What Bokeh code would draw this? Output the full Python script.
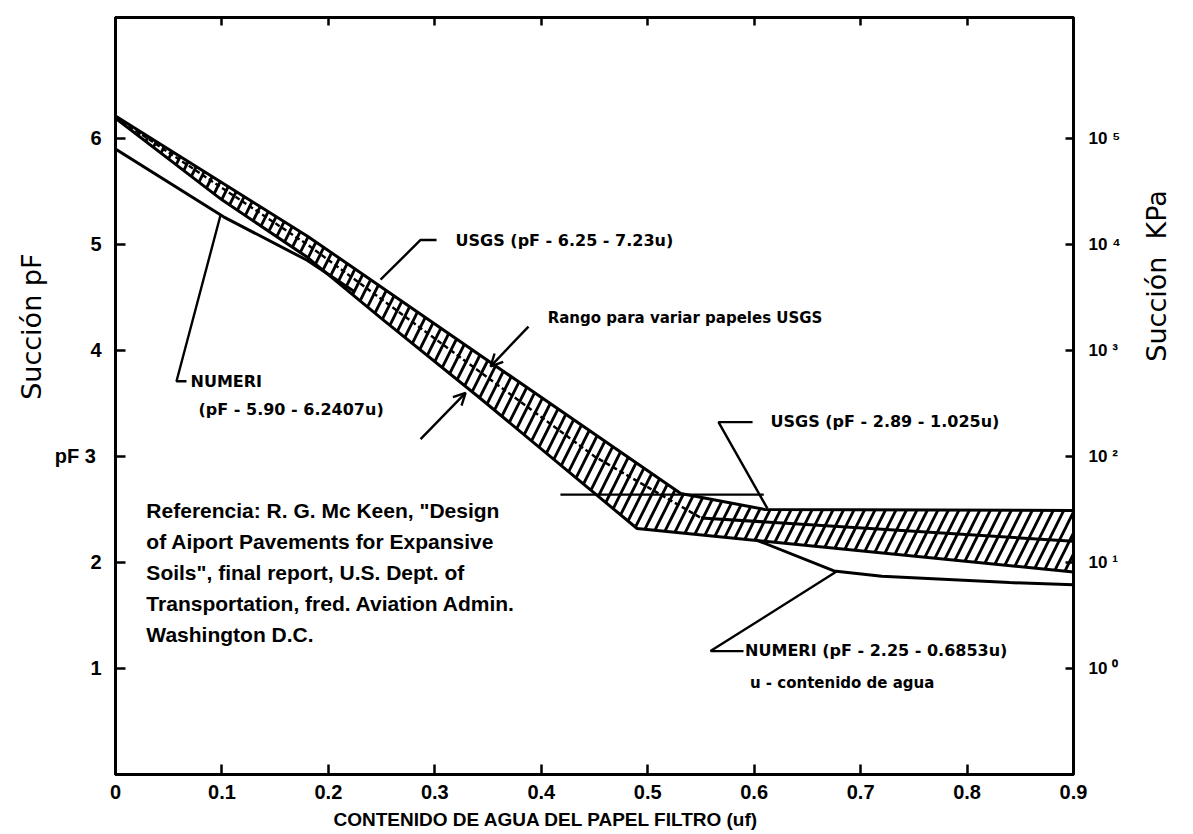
import math
from bokeh.plotting import figure
from bokeh.models import Range1d, LinearAxis, FixedTicker, Title, Arrow, OpenHead, ColumnDataSource
from bokeh.core.properties import value
from bokeh.embed import file_html
from bokeh.resources import INLINE

# ---------------- data ----------------
x_ticks = [0, 0.1, 0.2, 0.3, 0.4, 0.5, 0.6, 0.7, 0.8, 0.9]
x_tick_labels = ["0", "0.1", "0.2", "0.3", "0.4", "0.5", "0.6", "0.7", "0.8", "0.9"]
pf_ticks = [1, 2, 3, 4, 5, 6]
pf_labels = ["1", "2", "pF  3", "4", "5", "6"]
kpa_labels = ["10 \u2070", "10 \u00b9", "10 \u00b2", "10 \u00b3", "10 \u2074", "10 \u2075"]

# USGS range band (upper and lower edges)
band_top_u = [0, 0.18, 0.531, 0.61, 0.9]
band_top_pf = [6.21, 5.08, 2.65, 2.50, 2.49]
band_low_u = [0, 0.10, 0.18, 0.25, 0.34, 0.49, 0.9]
band_low_pf = [6.19, 5.42, 4.88, 4.30, 3.57, 2.32, 1.91]

# USGS inner (dashed) line and flat central line
usgs_inner_u = [0, 0.18, 0.45, 0.55]
usgs_inner_pf = [6.20, 5.00, 3.00, 2.42]
usgs_mid_u = [0.55, 0.9]
usgs_mid_pf = [2.42, 2.20]

# horizontal line near pF 2.64
horiz_u = [0.418, 0.609]
horiz_pf = [2.64, 2.64]

# NUMERI curves
numeri_hi_u = [0, 0.1015, 0.18, 0.225]
numeri_hi_pf = [5.90, 5.26, 4.85, 4.55]
numeri_lo_u = [0.60, 0.675, 0.72, 0.84, 0.9]
numeri_lo_pf = [2.22, 1.92, 1.87, 1.81, 1.79]

# leader lines (annotation pointers)
leader_numeri1_u = [0.0987, 0.0573, 0.0667]
leader_numeri1_pf = [5.277, 3.709, 3.709]
leader_usgs1_u = [0.249, 0.2866, 0.3016]
leader_usgs1_pf = [4.667, 5.042, 5.042]
leader_usgs2_u = [0.6125, 0.5665, 0.5985]
leader_usgs2_pf = [2.507, 3.324, 3.324]
leader_numeri2_u = [0.6774, 0.559, 0.59]
leader_numeri2_pf = [1.915, 1.164, 1.164]

# arrows for "Rango" note
arrow_u0 = [0.388, 0.2866]
arrow_pf0 = [4.225, 3.164]
arrow_u1 = [0.3524, 0.3289]
arrow_pf1 = [3.85, 3.60]

# annotation texts
note_texts = ["USGS (pF - 6.25 - 7.23u)", "NUMERI", "(pF - 5.90 - 6.2407u)",
              "USGS (pF - 2.89 - 1.025u)", "NUMERI (pF - 2.25 - 0.6853u)"]
note_u = [0.3195, 0.0705, 0.078, 0.6154, 0.5915]
note_pf = [5.04, 3.709, 3.446, 3.33, 1.174]

rango_texts = ["Rango para variar papeles USGS"]
rango_u = [0.406]
rango_pf = [4.31]

small_texts = ["u - contenido de agua"]
small_u = [0.596]
small_pf = [0.864]

ref_texts = ["Referencia:  R. G.  Mc Keen, \"Design",
             "of  Aiport  Pavements for Expansive",
             "Soils\",  final  report,  U.S.  Dept.   of",
             "Transportation, fred. Aviation Admin.",
             "Washington D.C."]
ref_u = [0.029, 0.029, 0.029, 0.029, 0.029]
ref_pf = [2.488, 2.197, 1.906, 1.615, 1.324]

# ---------------- figure ----------------
FONT = "Liberation Sans"
FONT2 = "DejaVu Sans"

p = figure(width=1193, height=834, x_range=Range1d(0, 0.9), y_range=Range1d(0, 7.14),
           output_backend="svg", toolbar_location=None,
           x_axis_location=None, y_axis_location=None,
           min_border_left=115, min_border_right=120, min_border_top=17, min_border_bottom=57)
p.grid.visible = False
p.outline_line_color = "black"
p.outline_line_width = 3
p.background_fill_color = "white"
p.border_fill_color = "white"


def style_axis(ax, size="20px"):
    ax.axis_line_width = 3
    ax.axis_line_color = "black"
    ax.major_tick_line_width = 2.5
    ax.major_tick_line_color = "black"
    ax.major_tick_in = 10
    ax.major_tick_out = 0
    ax.minor_tick_line_color = None
    ax.major_label_text_font = FONT
    ax.major_label_text_font_style = "bold"
    ax.major_label_text_font_size = size
    ax.major_label_text_color = "black"


bottom = LinearAxis(ticker=FixedTicker(ticks=x_ticks),
                    major_label_overrides=dict(zip(x_ticks, x_tick_labels)))
style_axis(bottom)
bottom.major_label_standoff = 10
p.add_layout(bottom, "below")

top = LinearAxis(ticker=FixedTicker(ticks=x_ticks[1:-1]))
style_axis(top)
top.major_tick_in = 8
top.major_label_text_color = None
p.add_layout(top, "above")

left = LinearAxis(ticker=FixedTicker(ticks=pf_ticks),
                  major_label_overrides=dict(zip(pf_ticks, pf_labels)))
style_axis(left)
left.major_label_standoff = 14
p.add_layout(left, "left")

right = LinearAxis(ticker=FixedTicker(ticks=pf_ticks),
                   major_label_overrides=dict(zip(pf_ticks, kpa_labels)))
style_axis(right)
right.major_tick_in = 8
right.major_label_standoff = 15
right.major_label_text_font_size = "17px"
p.add_layout(right, "right")

# outer right axis carrying only the title (reads bottom to top, as in the original)
right_title_axis = LinearAxis(ticker=FixedTicker(ticks=[]),
                              axis_label="\u00a0\u00a0\u00a0\u00a0Succi\u00f3n\u00a0\u00a0KPa")
right_title_axis.axis_line_color = None
right_title_axis.major_tick_line_color = None
right_title_axis.minor_tick_line_color = None
right_title_axis.major_tick_in = 0
right_title_axis.major_tick_out = 0
right_title_axis.minor_tick_in = 0
right_title_axis.minor_tick_out = 0
right_title_axis.major_label_standoff = 0
right_title_axis.major_label_text_color = None
right_title_axis.axis_label_text_font = FONT2
right_title_axis.axis_label_text_font_size = "27px"
right_title_axis.axis_label_text_font_style = "normal"
right_title_axis.axis_label_text_color = "black"
right_title_axis.axis_label_standoff = 33
if "axis_label_orientation" in right_title_axis.properties():
    right_title_axis.axis_label_orientation = math.pi / 2
p.add_layout(right_title_axis, "right")

# titles outside the frame
p.add_layout(Title(text="Succi\u00f3n pF", align="right", offset=236, text_color="black",
                   text_font=FONT2, text_font_size="27px", text_font_style="normal"), "left")
p.add_layout(Title(text="CONTENIDO DE AGUA DEL PAPEL FILTRO   (uf)", align="left", offset=218,
                   text_color="black", text_font=FONT, text_font_size="19px",
                   text_font_style="bold"), "below")

# hatched band
band_u = band_top_u + band_low_u[::-1]
band_pf = band_top_pf + band_low_pf[::-1]
p.patch(band_u, band_pf, fill_color=None, line_color=None,
        hatch_pattern="/", hatch_color="black", hatch_weight=2.8, hatch_scale=21)

LW = 3
p.line(band_top_u, band_top_pf, line_color="black", line_width=LW)
p.line(band_low_u, band_low_pf, line_color="black", line_width=LW)
p.line(usgs_inner_u, usgs_inner_pf, line_color="black", line_width=2.4, line_dash="5 3")
p.line(usgs_mid_u, usgs_mid_pf, line_color="black", line_width=LW)
p.line(horiz_u, horiz_pf, line_color="black", line_width=2.4)
p.line(numeri_hi_u, numeri_hi_pf, line_color="black", line_width=LW)
p.line(numeri_lo_u, numeri_lo_pf, line_color="black", line_width=LW)

for lu, lp in [(leader_numeri1_u, leader_numeri1_pf), (leader_usgs1_u, leader_usgs1_pf),
               (leader_usgs2_u, leader_usgs2_pf), (leader_numeri2_u, leader_numeri2_pf)]:
    p.line(lu, lp, line_color="black", line_width=2.4)

arrow_src = ColumnDataSource(dict(x0=arrow_u0, y0=arrow_pf0, x1=arrow_u1, y1=arrow_pf1))
p.add_layout(Arrow(end=OpenHead(size=12, line_width=2.4, line_color="black"),
                   x_start="x0", y_start="y0", x_end="x1", y_end="y1",
                   line_width=2.4, line_color="black", source=arrow_src))

p.text(note_u, note_pf, text=note_texts, text_font=value(FONT2), text_font_style="bold",
       text_font_size="16px", text_baseline="middle", text_align="left", text_color="black")
p.text(rango_u, rango_pf, text=rango_texts, text_font=value(FONT2), text_font_style="bold",
       text_font_size="15px", text_baseline="middle", text_align="left", text_color="black")
p.text(small_u, small_pf, text=small_texts, text_font=value(FONT2), text_font_style="bold",
       text_font_size="15px", text_baseline="middle", text_align="left", text_color="black")
p.text(ref_u, ref_pf, text=ref_texts, text_font=value(FONT), text_font_style="bold",
       text_font_size="21px", text_baseline="middle", text_align="left", text_color="black")

open("out.html", "w").write(file_html(p, INLINE))
